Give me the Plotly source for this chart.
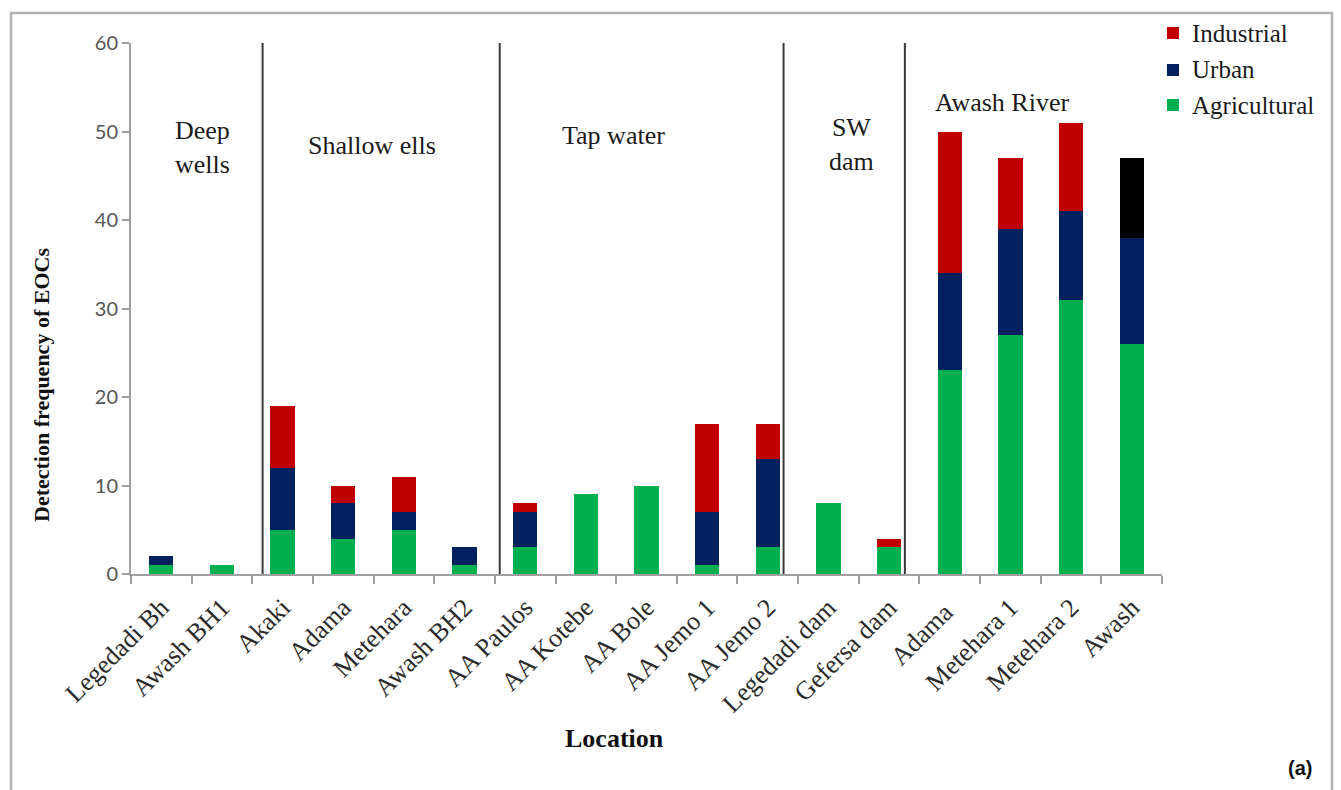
import plotly.graph_objects as go

# Sampling locations (x axis) and detection counts per source category
locations = [
    "Legedadi Bh", "Awash BH1", "Akaki", "Adama", "Metehara", "Awash BH2",
    "AA Paulos", "AA Kotebe", "AA Bole", "AA Jemo 1", "AA Jemo 2",
    "Legedadi dam", "Gefersa dam", "Adama ", "Metehara 1", "Metehara 2", "Awash",
]
agricultural = [1, 1, 5, 4, 5, 1, 3, 9, 10, 1, 3, 8, 3, 23, 27, 31, 26]
urban        = [1, 0, 7, 4, 2, 2, 4, 0, 0, 6, 10, 0, 0, 11, 12, 10, 12]
industrial   = [0, 0, 7, 2, 4, 0, 1, 0, 0, 10, 4, 0, 1, 16, 8, 10, 9]
series_names = ["Agricultural", "Urban", "Industrial"]

# Site groups: label, x position (category index), y position
group_labels = ["Deep<br>wells", "Shallow ells", "Tap water", "SW<br>dam", "Awash River"]
group_label_x = [0.68, 3.47, 7.45, 11.38, 13.86]
group_label_y = [48.2, 48.4, 49.6, 48.5, 53.3]
# Vertical separators between site groups (category index)
separator_x = [1.67, 5.58, 10.26, 12.26]

y_ticks = [0, 10, 20, 30, 40, 50, 60]

GREEN = "#00B050"
NAVY = "#002060"
RED = "#C00000"
SERIF = "Liberation Serif"
series_colors = [GREEN, NAVY, RED]

industrial_colors = [RED] * (len(locations) - 1) + ["#000000"]

fig = go.Figure()
for name, vals, col in zip(series_names, [agricultural, urban, industrial],
                           [GREEN, NAVY, industrial_colors]):
    fig.add_trace(go.Bar(x=locations, y=vals, name=name, showlegend=False,
                         marker=dict(color=col, line=dict(width=0))))

shapes = []
for sx in separator_x:
    shapes.append(dict(type="line", xref="x", yref="y", x0=sx, x1=sx, y0=0, y1=60,
                       line=dict(color="#3a3a3a", width=2)))
# outer frame
shapes.append(dict(type="rect", xref="paper", yref="paper",
                   x0=-0.1164, x1=1.1649, y0=-0.45, y1=1.0565,
                   line=dict(color="#b4b4b4", width=2.5), fillcolor="rgba(0,0,0,0)"))

annotations = []

# Key in the top-right corner: Industrial, Urban, Agricultural from top to bottom
key_rows_y = [0.8832, 0.9492, 1.0188]
key_half = 0.0113
for name, col, ky in zip(series_names, series_colors, key_rows_y):
    shapes.append(dict(type="rect", xref="paper", yref="paper",
                       x0=1.0048, x1=1.0165, y0=ky - key_half, y1=ky + key_half,
                       line=dict(width=0), fillcolor=col))
    annotations.append(dict(text=name, x=1.0272, y=ky, xref="paper", yref="paper",
                            showarrow=False, xanchor="left", yanchor="middle",
                            font=dict(family=SERIF, size=25, color="#1a1a1a")))

for txt, gx, gy in zip(group_labels, group_label_x, group_label_y):
    annotations.append(dict(text=txt, x=gx, y=gy, xref="x", yref="y", showarrow=False,
                            font=dict(family=SERIF, size=26, color="#1a1a1a"),
                            xanchor="center", yanchor="middle"))
annotations.append(dict(text="<b>Detection frequency of EOCs</b>", x=-0.0863, y=0.356,
                        xref="paper", yref="paper", showarrow=False, textangle=-90,
                        font=dict(family=SERIF, size=22, color="#111111"),
                        xanchor="center", yanchor="middle"))
annotations.append(dict(text="<b>Location</b>", x=0.469, y=-0.309, xref="paper", yref="paper",
                        showarrow=False, font=dict(family=SERIF, size=26, color="#111111"),
                        xanchor="center", yanchor="middle"))
annotations.append(dict(text="<b>(a)</b>", x=1.134, y=-0.365, xref="paper", yref="paper",
                        showarrow=False, font=dict(family="Liberation Sans", size=20, color="#111111"),
                        xanchor="center", yanchor="middle"))

fig.update_layout(
    template="none",
    width=1341, height=790,
    margin=dict(l=131, r=179, t=43, b=216, autoexpand=False),
    paper_bgcolor="white", plot_bgcolor="white",
    font=dict(family=SERIF, color="#1a1a1a"),
    barmode="stack", bargap=0.6,
    showlegend=False,
    shapes=shapes,
    annotations=annotations,
    xaxis=dict(type="category", tickangle=-45, tickson="boundaries",
               ticks="outside", ticklen=8, tickcolor="#a0a0a0", tickwidth=2,
               ticklabelstandoff=6,
               showline=True, linecolor="#a0a0a0", linewidth=2,
               showgrid=False, zeroline=False,
               tickfont=dict(family=SERIF, size=26, color="#2a2a2a")),
    yaxis=dict(range=[0, 60], tickvals=y_ticks, ticks="outside", ticklen=7,
               tickcolor="#a0a0a0", tickwidth=2,
               showline=True, linecolor="#a0a0a0", linewidth=2,
               showgrid=False, zeroline=False,
               tickfont=dict(family="Lato", size=20, color="#555555")),
)

fig.write_html("out.html")
